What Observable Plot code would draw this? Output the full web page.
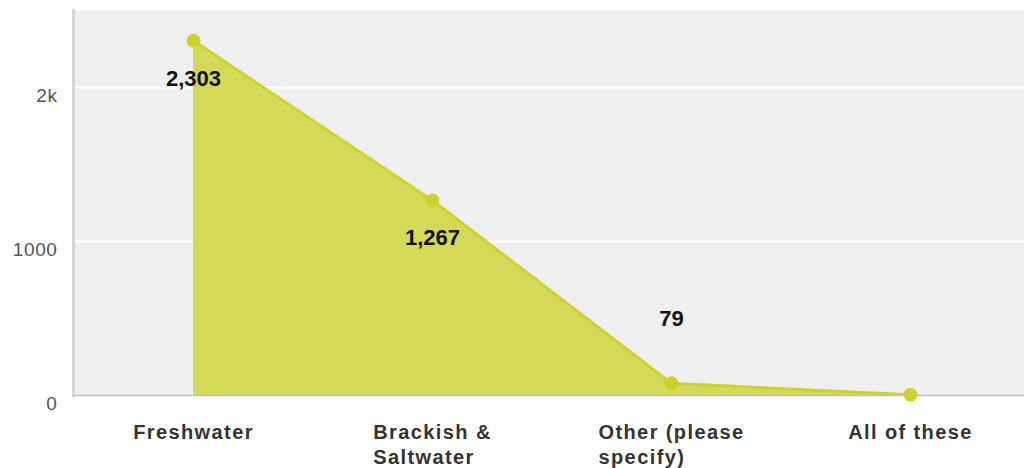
<!DOCTYPE html>
<html><head><meta charset="utf-8">
<script src="https://cdn.jsdelivr.net/npm/d3@7"></script>
<script src="https://cdn.jsdelivr.net/npm/@observablehq/plot@0.6"></script>
<style>
body{margin:0;background:#fff;}
svg{overflow:hidden;}
g[aria-label="x-axis tick label"]{letter-spacing:1.4px;}
g[aria-label="y-axis tick label"]{letter-spacing:0.6px;}
</style>
</head><body><div id="chart"></div>
<script>
const categories = ["Freshwater", "Brackish & Saltwater", "Other (please specify)", "All of these"];
const categoryLabels = ["Freshwater", "Brackish &\nSaltwater", "Other (please\nspecify)", "All of these"];
const values = [2303, 1267, 79, 5];
const valueLabels = ["2,303", "1,267", "79", ""];
const yTicks = [0, 1000, 2000];
const yTickLabels = ["0", "1000", "2k"];

const data = categories.map((c, i) => ({category: c, value: values[i], text: valueLabels[i]}));

const fillColor = "#d5d958";
const lineColor = "#cdd22c";

const chart = Plot.plot({
  width: 1024,
  height: 468,
  marginLeft: 73,
  marginRight: -5,
  marginTop: 10,
  marginBottom: 73,
  style: {fontFamily: "'Liberation Sans', Arial, sans-serif", background: "#fff"},
  x: {type: "point", domain: categories, padding: 0.5},
  y: {domain: [0, 2500]},
  marks: [
    Plot.frame({fill: "#efefef", stroke: null}),
    Plot.gridY(yTicks.filter(t => t > 0), {stroke: "#ffffff", strokeOpacity: 1, strokeWidth: 2}),
    Plot.areaY(data, {x: "category", y: "value", fill: fillColor}),
    Plot.lineY(data, {x: "category", y: "value", stroke: lineColor, strokeWidth: 3}),
    Plot.dot(data, {x: "category", y: "value", r: 7, fill: lineColor}),
    Plot.frame({anchor: "left", stroke: "#d6d6d6", strokeWidth: 3}),
    Plot.ruleY([0], {stroke: "#c0c0c0", strokeWidth: 1.5}),
    Plot.text(data.filter(d => d.value > 500), {x: "category", y: "value", text: "text", dy: 38, fontSize: 22, fontWeight: "bold", fill: "#111"}),
    Plot.text(data.filter(d => d.value <= 500 && d.text), {x: "category", y: "value", text: "text", dy: -64, fontSize: 22, fontWeight: "bold", fill: "#111"}),
    Plot.axisY(yTicks, {tickSize: 0, tickPadding: 16, dy: 8, label: null, fontSize: 19, fill: "#555",
      tickFormat: d => yTickLabels[yTicks.indexOf(d)]}),
    Plot.axisX({tickSize: 0, tickPadding: 26, label: null, fontSize: 20, fontWeight: "bold", fill: "#333",
      lineHeight: 1.25, tickFormat: d => categoryLabels[categories.indexOf(d)]})
  ]
});

document.getElementById("chart").appendChild(chart);

// left-align lines of multi-line x labels within a centered block
chart.querySelectorAll('g[aria-label="x-axis tick label"] text').forEach(t => {
  const w = t.getBBox().width;
  t.setAttribute("text-anchor", "start");
  const spans = t.querySelectorAll("tspan");
  if (spans.length) spans.forEach(s => s.setAttribute("x", -w / 2));
  else t.setAttribute("x", -w / 2);
});
</script>
</body></html>
